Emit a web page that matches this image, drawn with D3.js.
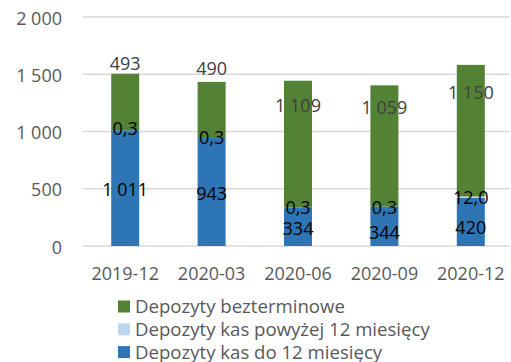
<!DOCTYPE html>
<html>
<head>
<meta charset="utf-8">
<script src="https://cdn.jsdelivr.net/npm/d3@7"></script>
<style>
  html, body { margin: 0; padding: 0; background: #fff; }
  svg { display: block; font-family: "Open Sans", sans-serif; }
</style>
</head>
<body>
<svg id="chart" width="511" height="362"></svg>
<script>
// Quarterly deposits (mln zł)
const categories = ["2019-12", "2020-03", "2020-06", "2020-09", "2020-12"];
const depShort = [1011, 943, 334, 344, 420];        // Depozyty kas do 12 miesięcy
const depLong = [0.3, 0.3, 0.3, 0.3, 12.0];         // Depozyty kas powyżej 12 miesięcy
const depDemand = [493, 490, 1109, 1059, 1150];     // Depozyty bezterminowe
const yTicks = [0, 500, 1000, 1500, 2000];

// Value at which each data label is centred
const shortLabelAt = [489, 454, 155, 118, 157];
const longLabelAt = [1025, 950, 334, 334, 420];
const demandLabelAt = [1592, 1548, 1224, 1210, 1341];

const series = [
  { key: "short", name: "Depozyty kas do 12 miesięcy", values: depShort, color: "#2E75B6", labelAt: shortLabelAt, labelColor: "#000", fmt: ",.0f" },
  { key: "long", name: "Depozyty kas powyżej 12 miesięcy", values: depLong, color: "#BDD7EE", labelAt: longLabelAt, labelColor: "#000", fmt: ",.1f" },
  { key: "demand", name: "Depozyty bezterminowe", values: depDemand, color: "#548235", labelAt: demandLabelAt, labelColor: "#404040", fmt: ",.0f" }
];

const FS = 18;          // font size
const LEGEND_FS = 18.6; // legend font size
const HALF = 6.4;       // half digit height, for vertical centring

const pl = d3.formatLocale({ decimal: ",", thousands: "\u00a0", grouping: [3], currency: ["", " zł"] });

const svg = d3.select("#chart");
const y = d3.scaleLinear().domain([0, 2000]).range([246, 17]);
const x = d3.scaleBand().domain(categories).range([82, 514]).paddingInner(0.676).paddingOuter(0.338);

// Gridlines
svg.append("g").selectAll("line").data(yTicks).join("line")
  .attr("x1", 83).attr("x2", 510)
  .attr("y1", d => y(d)).attr("y2", d => y(d))
  .attr("stroke", "#d9d9d9").attr("stroke-width", 1.5);

// Y axis labels
const yAxis = d3.axisLeft(y).tickValues(yTicks).tickFormat(pl.format(",.0f")).tickSize(0).tickPadding(0);
const yg = svg.append("g").attr("transform", "translate(62,0)").call(yAxis);
yg.select(".domain").remove();
yg.selectAll("text").attr("font-size", FS).attr("fill", "#595959")
  .attr("font-family", "Open Sans, sans-serif").attr("dy", null).attr("y", HALF + 0.7);

// X axis labels
const xAxis = d3.axisBottom(x).tickSize(0).tickPadding(0);
const xg = svg.append("g").attr("transform", "translate(0,274)").call(xAxis);
xg.select(".domain").remove();
xg.selectAll("text").attr("font-size", FS).attr("fill", "#595959")
  .attr("font-family", "Open Sans, sans-serif").attr("dy", null).attr("y", HALF);

// Stack
const rows = categories.map((c, i) => ({ cat: c, short: depShort[i], long: depLong[i], demand: depDemand[i] }));
const stacked = d3.stack().keys(series.map(s => s.key))(rows);

stacked.forEach((layer, li) => {
  const s = series[li];
  svg.append("g").selectAll("rect").data(layer).join("rect")
    .attr("x", d => x(d.data.cat))
    .attr("width", x.bandwidth())
    .attr("y", d => y(d[1]))
    .attr("height", d => y(d[0]) - y(d[1]))
    .attr("fill", s.color);
});

// Data labels
series.forEach(s => {
  svg.append("g").selectAll("text").data(categories).join("text")
    .attr("x", c => x(c) + x.bandwidth() / 2)
    .attr("y", (c, i) => y(s.labelAt[i]) + HALF)
    .attr("text-anchor", "middle")
    .attr("font-size", FS)
    .attr("fill", s.labelColor)
    .text((c, i) => pl.format(s.fmt)(s.values[i]));
});

// Legend
const legendOrder = [series[2], series[1], series[0]];
const lg = svg.append("g").selectAll("g").data(legendOrder).join("g")
  .attr("transform", (d, i) => `translate(118,${306.5 + i * 22.8})`);
lg.append("rect").attr("x", 0).attr("y", -6).attr("width", 12).attr("height", 12).attr("fill", d => d.color);
lg.append("text").attr("x", 17).attr("y", HALF).attr("font-size", LEGEND_FS).attr("fill", "#595959").text(d => d.name);
</script>
</body>
</html>
